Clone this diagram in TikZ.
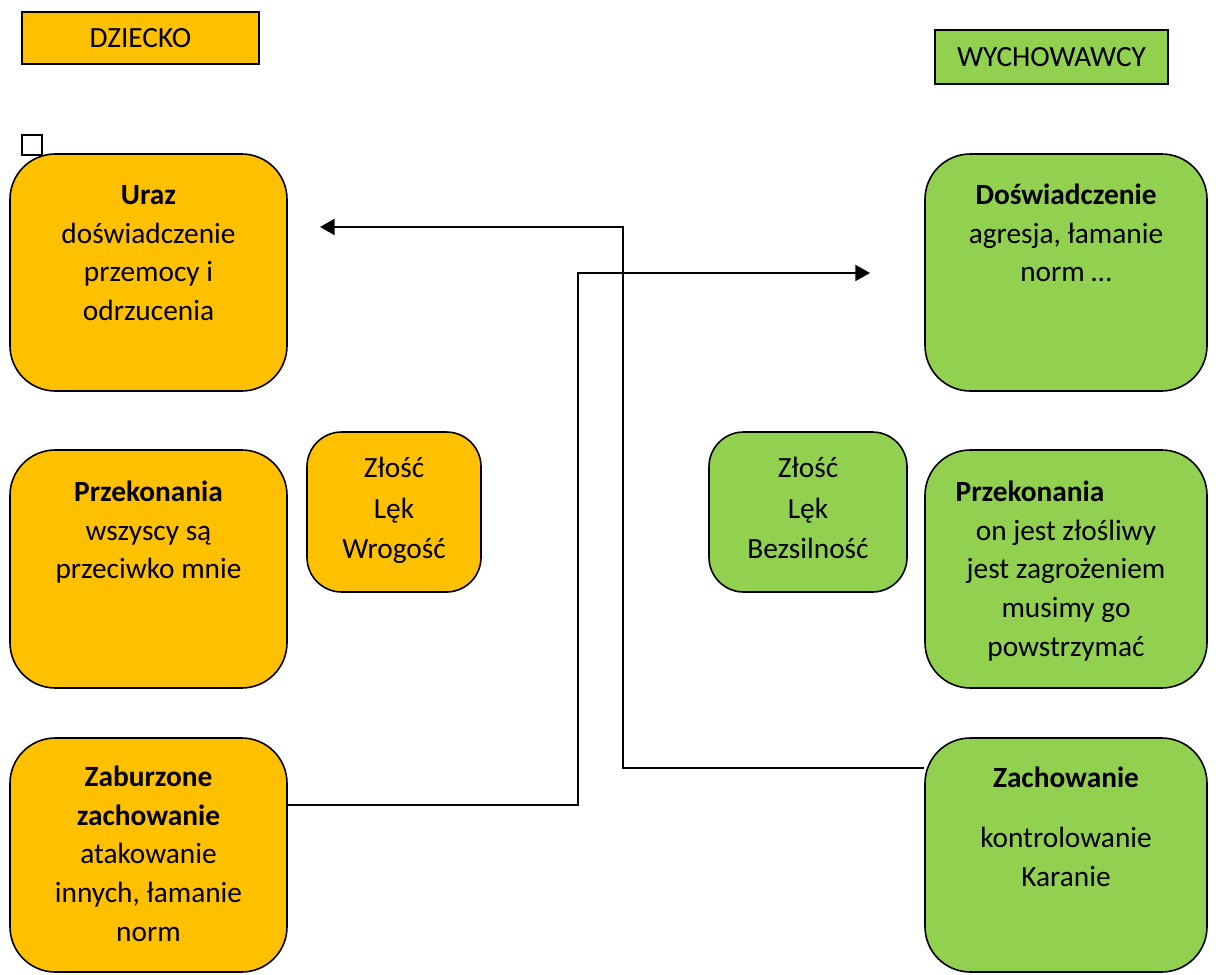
\documentclass[tikz,border=0pt]{standalone}
\usepackage{fontspec}
\setmainfont{Carlito}
\usetikzlibrary{arrows.meta}
\definecolor{dzieckofill}{HTML}{FFC000}
\definecolor{wychfill}{HTML}{92D050}
\tikzset{
  box/.style 2 args={draw, line width=1.2pt, minimum width=#1*0.75pt, minimum height=#2*0.75pt, inner sep=0pt},
  child/.style={fill=dzieckofill},
  staff/.style={fill=wychfill},
  bigrc/.style={rounded corners=34pt},
  smallrc/.style={rounded corners=26pt},
  txt/.style={font=\fontsize{22}{29}\selectfont, align=center, inner sep=0pt, anchor=north},
  conn/.style={line width=1.6pt},
  arr/.style={-{Triangle[length=11pt,width=12pt]}},
}
\begin{document}
\begin{tikzpicture}[x=0.75pt,y=-0.75pt]
  \useasboundingbox (0,0) rectangle (1216,974);
  % naglowki
  \node[box={237}{52}, child, font=\fontsize{22}{24}\selectfont] (dziecko) at (140.5,38) {DZIECKO};
  \node[box={233}{54}, staff, font=\fontsize{22}{24}\selectfont] (wych) at (1051.5,57) {WYCHOWAWCY};
  \node[box={20}{20}, fill=white] (znak) at (32,145) {};
  % dziecko
  \node[box={277}{237}, child, bigrc] (uraz) at (148.5,272.5) {};
  \node[box={277}{238}, child, bigrc] (przekL) at (148.5,569) {};
  \node[box={174}{160}, child, smallrc] (zloscL) at (394,512) {};
  \node[box={277}{234}, child, bigrc] (zabur) at (148.5,855) {};
  \node[txt] (urazt) at (148.5,177) {\strut\textbf{Uraz}\\ doświadczenie\\ przemocy i\\ odrzucenia};
  \node[txt] (przekLt) at (148.5,474) {\strut\textbf{Przekonania}\\ wszyscy są\\ przeciwko mnie};
  \node[txt] (zloscLt) at (394,450) {\strut Złość\\[1.5pt] Lęk\\[1.5pt] Wrogość};
  \node[txt] (zabourt) at (148.5,759) {\strut\textbf{Zaburzone}\\ \textbf{zachowanie}\\ atakowanie\\ innych, łamanie\\ norm};
  % wychowawcy
  \node[box={282}{237}, staff, bigrc] (dosw) at (1066,272.5) {};
  \node[box={198}{160}, staff, smallrc] (zloscR) at (808,512) {};
  \node[box={282}{238}, staff, bigrc] (przekR) at (1066,569) {};
  \node[box={282}{234}, staff, bigrc] (zach) at (1066,855) {};
  \node[txt] (doswt) at (1066,177) {\strut\textbf{Doświadczenie}\\ agresja, łamanie\\ norm …};
  \node[txt] (zloscRt) at (808,450) {\strut Złość\\[1.5pt] Lęk\\[1.5pt] Bezsilność};
  \node[txt] (przekRt) at (1066,474) {\strut\textbf{Przekonania}\hspace{54pt}\mbox{}\\ on jest złośliwy\\ jest zagrożeniem\\ musimy go\\ powstrzymać};
  \node[txt] (zacht) at (1066,760) {\strut\textbf{Zachowanie}\\[16pt] kontrolowanie\\ Karanie};
  % polaczenia
  \coordinate (urazin) at (320,227);
  \coordinate (doswin) at (870,273);
  \coordinate (bendA) at (578,273);
  \coordinate (bendB) at (623,227);
  \draw[conn, arr] ([yshift=37.5pt]zabur.east) -| (bendA) -- (doswin);
  \draw[conn, arr] ([yshift=65.25pt]zach.west) -| (bendB) -- (urazin);
\end{tikzpicture}
\end{document}
